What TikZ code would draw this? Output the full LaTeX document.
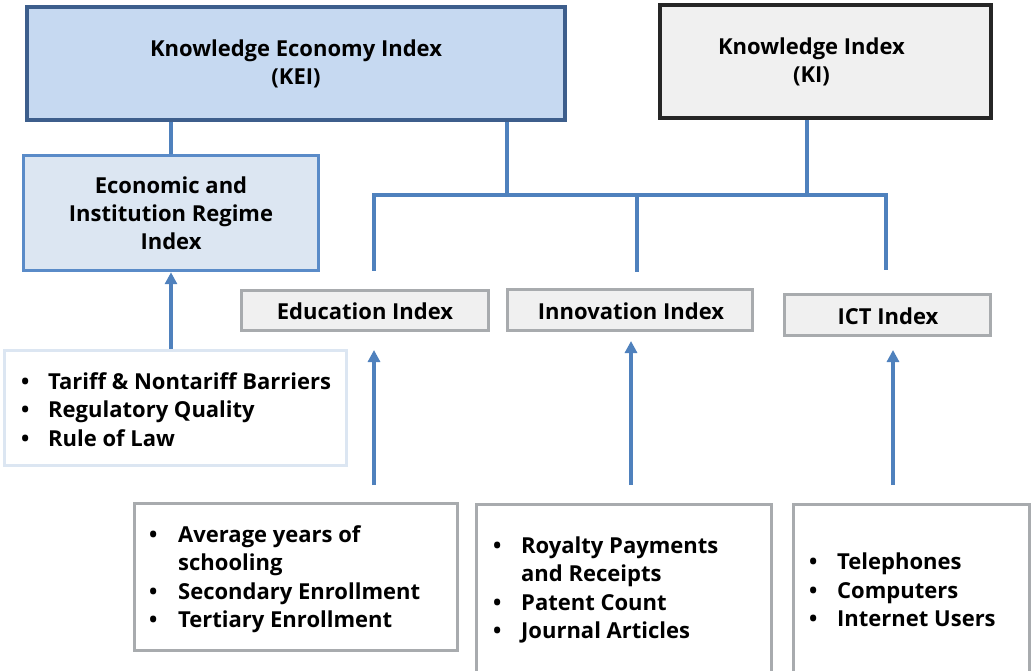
\documentclass[tikz,border=0pt]{standalone}
\usepackage{fontspec}
\setmainfont{Open Sans}
\usetikzlibrary{arrows.meta}
\definecolor{keifill}{HTML}{C6D9F1}
\definecolor{keiedge}{HTML}{3D5E8C}
\definecolor{kifill}{HTML}{F0F0F0}
\definecolor{kiedge}{HTML}{262626}
\definecolor{eirfill}{HTML}{DCE6F2}
\definecolor{eiredge}{HTML}{5A8BC8}
\definecolor{paleedge}{HTML}{DCE6F2}
\definecolor{grayedge}{HTML}{A8ABAE}
\definecolor{connblue}{HTML}{4F81BD}
\begin{document}
\begin{tikzpicture}[x=1pt,y=-1pt,
  box/.style={rectangle, inner sep=0pt},
  txt/.style={inner sep=0pt, align=center, font=\bfseries\fontsize{22}{28}\selectfont},
  listtxt/.style={inner sep=0pt, align=left, anchor=west, font=\bfseries\fontsize{22}{28.5}\selectfont},
  conn/.style={draw=connblue, line width=3.5pt},
  arr/.style={draw=connblue, line width=3.5pt, -{Triangle[width=12pt,length=12pt]}}]
\useasboundingbox (0,0) rectangle (1034,671);
% top boxes
\node[box, draw=keiedge, fill=keifill, line width=4.5pt, minimum width=538, minimum height=113] (kei) at (296,63.5) {};
\node[txt] (kei-t) at (296,64) {Knowledge Economy Index\\(KEI)};
\node[box, draw=kiedge, fill=kifill, line width=4pt, minimum width=331, minimum height=113] (ki) at (825.5,61.5) {};
\node[txt] (ki-t) at (811.5,62) {Knowledge Index\\(KI)};
\node[box, draw=eiredge, fill=eirfill, line width=3.5pt, minimum width=295, minimum height=115] (eir) at (171,213) {};
\node[txt] (eir-t) at (171,213) {Economic and\\Institution Regime\\Index};
% tariff list
\node[box, draw=paleedge, fill=white, line width=3.5pt, minimum width=342, minimum height=115] (tar) at (175.5,408) {};
\node[listtxt] (tar-t) at (21,409.5) {\makebox[27pt][l]{\textbullet}Tariff \& Nontariff Barriers\\
\makebox[27pt][l]{\textbullet}Regulatory Quality\\
\makebox[27pt][l]{\textbullet}Rule of Law};
% index boxes
\node[box, draw=grayedge, fill=kifill, line width=3.5pt, minimum width=247, minimum height=40] (edu) at (365,310.5) {};
\node[txt] (edu-t) at (365,311) {Education Index};
\node[box, draw=grayedge, fill=kifill, line width=3.5pt, minimum width=245, minimum height=41] (inn) at (630,310) {};
\node[txt] (inn-t) at (631,311) {Innovation Index};
\node[box, draw=grayedge, fill=kifill, line width=3.5pt, minimum width=206, minimum height=41] (ict) at (887.5,315) {};
\node[txt] (ict-t) at (888,316) {ICT Index};
% bottom lists
\node[box, draw=grayedge, fill=white, line width=3pt, minimum width=323, minimum height=147] (edul) at (296,577) {};
\node[listtxt] (edul-t) at (149,579) {\makebox[29pt][l]{\textbullet}Average years of\\
\hspace*{29pt}schooling\\
\makebox[29pt][l]{\textbullet}Secondary Enrollment\\
\makebox[29pt][l]{\textbullet}Tertiary Enrollment};
\node[box, draw=grayedge, fill=white, line width=3pt, minimum width=295, minimum height=170] (innl) at (624,589) {};
\node[listtxt] (innl-t) at (493,590) {\makebox[28pt][l]{\textbullet}Royalty Payments\\
\hspace*{28pt}and Receipts\\
\makebox[28pt][l]{\textbullet}Patent Count\\
\makebox[28pt][l]{\textbullet}Journal Articles};
\node[box, draw=grayedge, fill=white, line width=3pt, minimum width=236, minimum height=170] (ictl) at (911.5,589) {};
\node[listtxt] (ictl-t) at (809,590) {\makebox[28pt][l]{\textbullet}Telephones\\
\makebox[28pt][l]{\textbullet}Computers\\
\makebox[28pt][l]{\textbullet}Internet Users};
% connector coordinates
\coordinate (bL) at (374,195);
\coordinate (bR) at (886,195);
\coordinate (keiDrop) at (507,195);
\coordinate (kiDrop) at (807,195);
\coordinate (eduIn) at (374,271);
\coordinate (innIn) at (637,272);
\coordinate (ictIn) at (886,270);
\coordinate (eduFrom) at (374,485);
\coordinate (eduTip) at (374,350);
\coordinate (innFrom) at (631,485);
\coordinate (innTip) at (631,341);
\coordinate (ictFrom) at (893,485);
\coordinate (ictTip) at (893,350);
% connectors
\draw[conn] (eir.north |- kei.south) -- (eir.north);
\draw[conn] (keiDrop |- kei.south) -- (keiDrop);
\draw[conn] (kiDrop |- ki.south) -- (kiDrop);
\draw[conn] (eduIn) -- (bL) -- (bR) -- (ictIn);
\draw[conn] (innIn) -- (innIn |- bL);
% arrows
\draw[arr] (eir.south |- tar.north) -- (eir.south);
\draw[arr] (eduFrom) -- (eduTip);
\draw[arr] (innFrom) -- (innTip);
\draw[arr] (ictFrom) -- (ictTip);
\end{tikzpicture}
\end{document}
